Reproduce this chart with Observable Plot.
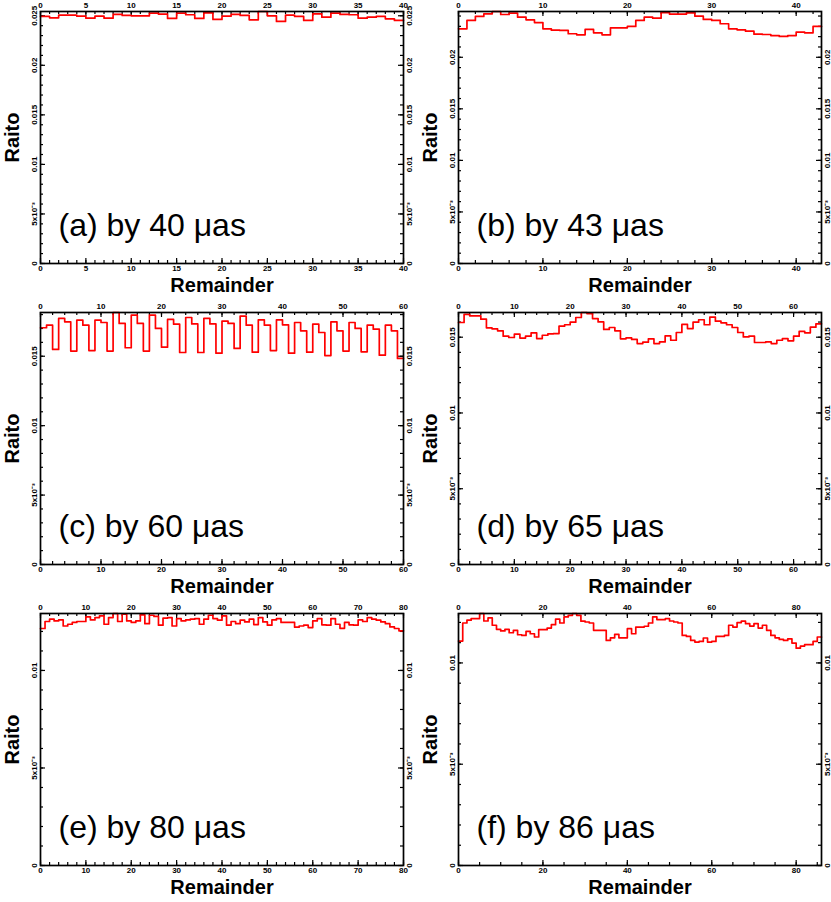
<!DOCTYPE html>
<html><head><meta charset="utf-8">
<script src="https://cdn.jsdelivr.net/npm/d3@7"></script>
<script src="https://cdn.jsdelivr.net/npm/@observablehq/plot@0.6"></script>
<style>
html,body{margin:0;padding:0;background:#fff;overflow:hidden;}
#wrap{position:relative;width:831px;height:902px;background:#fff;}
.panel{position:absolute;}
.panel svg{overflow:visible;}
</style></head><body><div id="wrap"></div>
<script>
// ---- data ----
const divisors = [40, 43, 60, 65, 80, 86];
const panelLabels = ["(a) by 40 μas", "(b) by 43 μas", "(c) by 60 μas", "(d) by 65 μas", "(e) by 80 μas", "(f) by 86 μas"];
const xTitle = "Remainder";
const yTitle = "Raito";

const ratioA = [0.02493, 0.02479, 0.02506, 0.02506, 0.02496, 0.02476, 0.02496, 0.02476, 0.02513, 0.02503,
  0.02499, 0.02499, 0.02526, 0.02516, 0.02473, 0.02526, 0.02510, 0.02473, 0.02530, 0.02463,
  0.02496, 0.02513, 0.02503, 0.02459, 0.02543, 0.02499, 0.02443, 0.02506, 0.02493, 0.02453,
  0.02520, 0.02486, 0.02526, 0.02513, 0.02510, 0.02476, 0.02486, 0.02493, 0.02469, 0.02453];

const ratioB = [0.02276, 0.02357, 0.02396, 0.02421, 0.02444, 0.02415, 0.02428, 0.02389, 0.02363, 0.02337,
  0.02276, 0.02263, 0.02260, 0.02228, 0.02218, 0.02270, 0.02237, 0.02218, 0.02286, 0.02286,
  0.02299, 0.02357, 0.02389, 0.02379, 0.02434, 0.02418, 0.02418, 0.02431, 0.02399, 0.02367,
  0.02357, 0.02325, 0.02276, 0.02266, 0.02253, 0.02224, 0.02221, 0.02211, 0.02202, 0.02211,
  0.02244, 0.02237, 0.02299];

const ratioC = [0.01705, 0.01724, 0.01549, 0.01772, 0.01748, 0.01537, 0.01760, 0.01724, 0.01541, 0.01760,
  0.01743, 0.01537, 0.01815, 0.01736, 0.01561, 0.01796, 0.01736, 0.01537, 0.01796, 0.01700,
  0.01565, 0.01765, 0.01731, 0.01527, 0.01779, 0.01733, 0.01527, 0.01772, 0.01733, 0.01522,
  0.01753, 0.01736, 0.01556, 0.01789, 0.01724, 0.01529, 0.01762, 0.01724, 0.01541, 0.01762,
  0.01726, 0.01522, 0.01743, 0.01683, 0.01529, 0.01731, 0.01671, 0.01505, 0.01748, 0.01683,
  0.01537, 0.01743, 0.01700, 0.01532, 0.01724, 0.01695, 0.01508, 0.01724, 0.01683, 0.01484];

const ratioD = [0.01597, 0.01650, 0.01641, 0.01641, 0.01619, 0.01562, 0.01555, 0.01542, 0.01507, 0.01498,
  0.01520, 0.01494, 0.01507, 0.01529, 0.01491, 0.01513, 0.01522, 0.01524, 0.01573, 0.01582,
  0.01599, 0.01630, 0.01663, 0.01656, 0.01623, 0.01601, 0.01551, 0.01564, 0.01542, 0.01489,
  0.01496, 0.01485, 0.01458, 0.01467, 0.01489, 0.01458, 0.01469, 0.01509, 0.01480, 0.01531,
  0.01584, 0.01557, 0.01599, 0.01615, 0.01582, 0.01632, 0.01606, 0.01595, 0.01582, 0.01564,
  0.01531, 0.01502, 0.01507, 0.01465, 0.01465, 0.01469, 0.01458, 0.01480, 0.01491, 0.01476,
  0.01507, 0.01538, 0.01529, 0.01566, 0.01588];

const ratioE = [0.01215, 0.01251, 0.01263, 0.01254, 0.01259, 0.01228, 0.01237, 0.01246, 0.01251, 0.01251,
  0.01275, 0.01259, 0.01271, 0.01280, 0.01237, 0.01271, 0.01292, 0.01251, 0.01289, 0.01254,
  0.01246, 0.01254, 0.01285, 0.01240, 0.01283, 0.01277, 0.01232, 0.01268, 0.01271, 0.01228,
  0.01266, 0.01254, 0.01259, 0.01263, 0.01266, 0.01237, 0.01263, 0.01283, 0.01266, 0.01258,
  0.01280, 0.01232, 0.01251, 0.01240, 0.01258, 0.01249, 0.01263, 0.01235, 0.01271, 0.01249,
  0.01232, 0.01259, 0.01266, 0.01246, 0.01246, 0.01246, 0.01222, 0.01228, 0.01232, 0.01220,
  0.01254, 0.01266, 0.01234, 0.01232, 0.01266, 0.01237, 0.01216, 0.01246, 0.01234, 0.01232,
  0.01259, 0.01251, 0.01271, 0.01263, 0.01258, 0.01249, 0.01240, 0.01223, 0.01215, 0.01203];

const ratioF = [0.01108, 0.01197, 0.01211, 0.01219, 0.01219, 0.01244, 0.01207, 0.01222, 0.01186, 0.01166,
  0.01158, 0.01166, 0.01149, 0.01161, 0.01139, 0.01136, 0.01156, 0.01144, 0.01128, 0.01164,
  0.01164, 0.01172, 0.01189, 0.01216, 0.01197, 0.01227, 0.01235, 0.01244, 0.01235, 0.01206,
  0.01202, 0.01197, 0.01161, 0.01161, 0.01161, 0.01111, 0.01124, 0.01141, 0.01124, 0.01124,
  0.01169, 0.01144, 0.01177, 0.01177, 0.01181, 0.01197, 0.01227, 0.01214, 0.01214, 0.01219,
  0.01207, 0.01202, 0.01197, 0.01136, 0.01131, 0.01111, 0.01103, 0.01106, 0.01123, 0.01103,
  0.01106, 0.01131, 0.01131, 0.01136, 0.01186, 0.01177, 0.01199, 0.01206, 0.01194, 0.01182,
  0.01194, 0.01172, 0.01186, 0.01161, 0.01136, 0.01124, 0.01116, 0.01111, 0.01119, 0.01098,
  0.01073, 0.01083, 0.01090, 0.01090, 0.01106, 0.01128];

const xMajorStep = [5, 10, 10, 10, 10, 20];
const xMinorStep = [1, 2, 2, 2, 2, 5];
const yTickValues = [0, 0.005, 0.01, 0.015, 0.02, 0.025];
const yTickLabels = ["0", "5x10\u207B\u00B3", "0.01", "0.015", "0.02", "0.025"];
const yMinorStep = 0.001;

const series = [ratioA, ratioB, ratioC, ratioD, ratioE, ratioF];

// ---- layout ----
const colLeft = [0, 415], colWidth = [415, 416], colML = [40, 43], colMR = [12, 10];
const rowTop = [0, 301, 602];
const H = 301, MT = 11, MB = 38;
const FONT = "'Liberation Sans', Arial, Helvetica, sans-serif";

const wrap = document.getElementById("wrap");

series.forEach((vals, k) => {
  const col = k % 2, row = Math.floor(k / 2);
  const N = divisors[k];
  const W = colWidth[col], ML = colML[col], MR = colMR[col];
  const innerW = W - ML - MR, innerH = H - MT - MB;
  const ymax = d3.max(vals);
  const pts = vals.map((v, i) => ({x: i, y: v}));
  pts.push({x: N, y: vals[N - 1]});

  const xMaj = d3.range(0, N + 1e-9, xMajorStep[k]);
  const xMin = d3.range(0, N + 1e-9, xMinorStep[k]);
  const yMajIdx = yTickValues.map((v, i) => i).filter(i => yTickValues[i] <= ymax + 1e-12);
  const yMaj = yMajIdx.map(i => yTickValues[i]);
  const yMin = d3.range(0, ymax + 1e-12, yMinorStep);
  const fmtY = v => yTickLabels[yTickValues.findIndex(t => Math.abs(t - v) < 1e-9)];

  const tickStyle = {stroke: "black", strokeWidth: 1.2};
  const lblStyle = {fontSize: 8, fontWeight: "bold", tickSize: 0, label: null, color: "black"};

  const chart = Plot.plot({
    width: W, height: H,
    marginLeft: ML, marginRight: MR, marginTop: MT, marginBottom: MB,
    style: {fontFamily: FONT, background: "transparent", overflow: "visible", color: "black"},
    x: {type: "linear", domain: [0, N]},
    y: {type: "linear", domain: [0, ymax]},
    marks: [
      // inward ticks on four sides
      Plot.tickX(xMaj, {x: d => d, insetTop: innerH - 5, ...tickStyle}),
      Plot.tickX(xMaj, {x: d => d, insetBottom: innerH - 5, ...tickStyle}),
      Plot.tickX(xMin, {x: d => d, insetTop: innerH - 3, ...tickStyle}),
      Plot.tickX(xMin, {x: d => d, insetBottom: innerH - 3, ...tickStyle}),
      Plot.tickY(yMaj, {y: d => d, insetRight: innerW - 5, ...tickStyle}),
      Plot.tickY(yMaj, {y: d => d, insetLeft: innerW - 5, ...tickStyle}),
      Plot.tickY(yMin, {y: d => d, insetRight: innerW - 3, ...tickStyle}),
      Plot.tickY(yMin, {y: d => d, insetLeft: innerW - 3, ...tickStyle}),
      // tick labels
      Plot.axisX(xMaj, {anchor: "bottom", tickPadding: 2, tickFormat: d => String(d), ...lblStyle}),
      Plot.axisX(xMaj, {anchor: "top", tickPadding: 4, tickFormat: d => String(d), ...lblStyle}),
      Plot.axisY(yMaj, {anchor: "left", tickRotate: -90, tickPadding: 4, textAnchor: "middle", lineAnchor: "bottom", tickFormat: fmtY, ...lblStyle}),
      Plot.axisY(yMaj, {anchor: "right", tickRotate: -90, tickPadding: 3, textAnchor: "middle", lineAnchor: "top", tickFormat: fmtY, ...lblStyle}),
      // data
      Plot.line(pts, {x: "x", y: "y", curve: "step-after", stroke: "#ff0000", strokeWidth: 1.7}),
      Plot.frame({stroke: "black", strokeWidth: 1.7}),
      // titles
      Plot.text([xTitle], {text: d => d, frameAnchor: "bottom", dy: 28, lineAnchor: "bottom", fontSize: 20, fontWeight: "bold", fill: "black"}),
      Plot.text([yTitle], {text: d => d, frameAnchor: "left", dx: -28, rotate: -90, textAnchor: "middle", lineAnchor: "middle", fontSize: 20, fontWeight: "bold", fill: "black"}),
      Plot.text([panelLabels[k]], {text: d => d, frameAnchor: "bottom-left", dx: 18, dy: -28, textAnchor: "start", lineAnchor: "bottom", fontSize: 32, fill: "black"})
    ]
  });
  const div = document.createElement("div");
  div.className = "panel";
  div.style.left = colLeft[col] + "px";
  div.style.top = rowTop[row] + "px";
  div.appendChild(chart);
  wrap.appendChild(div);
});
</script>
</body></html>
